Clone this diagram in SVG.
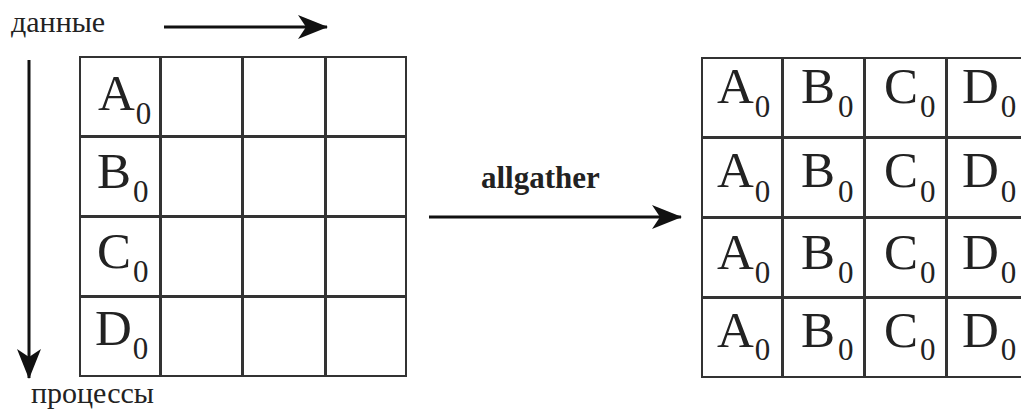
<svg xmlns="http://www.w3.org/2000/svg" width="1021" height="415" viewBox="0 0 1021 415">
<style>
.c{fill:#fff;stroke:#333;stroke-width:2}
.t{font-family:"Liberation Serif","Times New Roman",serif;font-size:51px;fill:#222}
.s{font-size:31px}
.lbl{font-family:"Liberation Serif","Times New Roman",serif;font-size:30px;fill:#222}
.b{font-weight:bold;font-size:31px}
.ln{stroke:#111;stroke-width:3;fill:none}
</style>
<defs>
<marker id="ah" viewBox="0 0 30 24" refX="29" refY="12" markerWidth="30" markerHeight="24" markerUnits="userSpaceOnUse" orient="auto"><path d="M0,0 L30,12 L0,24 L8,12 Z" fill="#111"/></marker>
</defs>
<rect width="1021" height="415" fill="#fff"/>
<g id="left-grid">
<g id="L-r1"><rect class="c" x="80" y="57" width="80" height="79"/><rect class="c" x="161" y="57" width="81" height="79"/><rect class="c" x="243" y="57" width="82" height="79"/><rect class="c" x="326" y="57" width="80" height="79"/><text class="t" x="98" y="110">A<tspan class="s" dx="1" dy="14">0</tspan></text></g>
<g id="L-r2"><rect class="c" x="80" y="137" width="80" height="79"/><rect class="c" x="161" y="137" width="81" height="79"/><rect class="c" x="243" y="137" width="82" height="79"/><rect class="c" x="326" y="137" width="80" height="79"/><text class="t" x="97" y="188">B<tspan class="s" dx="2" dy="14">0</tspan></text></g>
<g id="L-r3"><rect class="c" x="80" y="217" width="80" height="79"/><rect class="c" x="161" y="217" width="81" height="79"/><rect class="c" x="243" y="217" width="82" height="79"/><rect class="c" x="326" y="217" width="80" height="79"/><text class="t" x="97" y="268">C<tspan class="s" dx="2" dy="14">0</tspan></text></g>
<g id="L-r4"><rect class="c" x="80" y="297" width="80" height="79"/><rect class="c" x="161" y="297" width="81" height="79"/><rect class="c" x="243" y="297" width="82" height="79"/><rect class="c" x="326" y="297" width="80" height="79"/><text class="t" x="95" y="345">D<tspan class="s" dx="1" dy="14">0</tspan></text></g>
</g>
<g id="right-grid">
<g id="R-r1"><rect class="c" x="702" y="58" width="80" height="79"/><rect class="c" x="783" y="58" width="81" height="79"/><rect class="c" x="865" y="58" width="81" height="79"/><rect class="c" x="947" y="58" width="82" height="79"/>
<text class="t" x="717" y="103">A<tspan class="s" dx="1" dy="14">0</tspan></text><text class="t" x="801" y="103">B<tspan class="s" dx="3" dy="14">0</tspan></text><text class="t" x="884" y="103">C<tspan class="s" dx="2" dy="14">0</tspan></text><text class="t" x="962" y="103">D<tspan class="s" dx="2" dy="14">0</tspan></text></g>
<g id="R-r2"><rect class="c" x="702" y="138" width="80" height="79"/><rect class="c" x="783" y="138" width="81" height="79"/><rect class="c" x="865" y="138" width="81" height="79"/><rect class="c" x="947" y="138" width="82" height="79"/>
<text class="t" x="717" y="187">A<tspan class="s" dx="1" dy="15">0</tspan></text><text class="t" x="801" y="187">B<tspan class="s" dx="3" dy="15">0</tspan></text><text class="t" x="884" y="187">C<tspan class="s" dx="2" dy="15">0</tspan></text><text class="t" x="962" y="187">D<tspan class="s" dx="2" dy="15">0</tspan></text></g>
<g id="R-r3"><rect class="c" x="702" y="218" width="80" height="79"/><rect class="c" x="783" y="218" width="81" height="79"/><rect class="c" x="865" y="218" width="81" height="79"/><rect class="c" x="947" y="218" width="82" height="79"/>
<text class="t" x="717" y="269">A<tspan class="s" dx="1" dy="14">0</tspan></text><text class="t" x="801" y="269">B<tspan class="s" dx="3" dy="14">0</tspan></text><text class="t" x="884" y="269">C<tspan class="s" dx="2" dy="14">0</tspan></text><text class="t" x="962" y="269">D<tspan class="s" dx="2" dy="14">0</tspan></text></g>
<g id="R-r4"><rect class="c" x="702" y="298" width="80" height="79"/><rect class="c" x="783" y="298" width="81" height="79"/><rect class="c" x="865" y="298" width="81" height="79"/><rect class="c" x="947" y="298" width="82" height="79"/>
<text class="t" x="717" y="347">A<tspan class="s" dx="1" dy="13">0</tspan></text><text class="t" x="801" y="347">B<tspan class="s" dx="3" dy="13">0</tspan></text><text class="t" x="884" y="347">C<tspan class="s" dx="2" dy="13">0</tspan></text><text class="t" x="962" y="347">D<tspan class="s" dx="2" dy="13">0</tspan></text></g>
</g>
<g id="labels">
<text class="lbl" x="11" y="32">данные</text>
<text class="lbl" x="31" y="403">процессы</text>
<text class="lbl b" x="481" y="188">allgather</text>
</g>
<g id="connectors">
<line class="ln" x1="164" y1="27" x2="327" y2="27" marker-end="url(#ah)"/>
<line class="ln" x1="29" y1="60" x2="29" y2="378" marker-end="url(#ah)"/>
<line class="ln" x1="429" y1="217" x2="681" y2="217" marker-end="url(#ah)"/>
</g>
</svg>
